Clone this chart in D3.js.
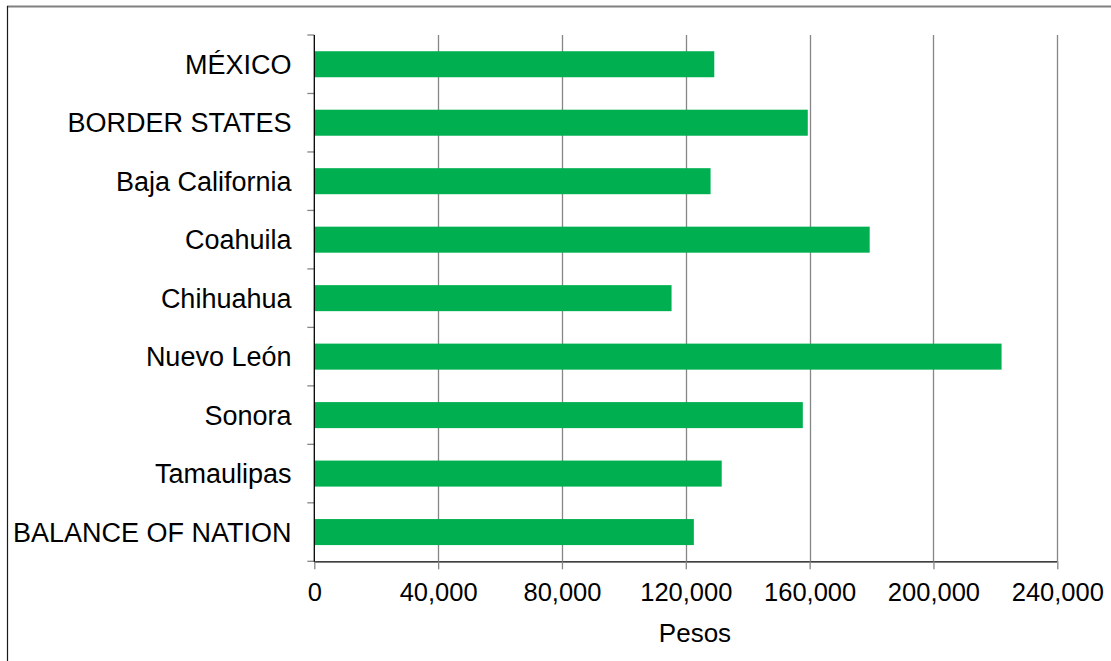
<!DOCTYPE html>
<html>
<head>
<meta charset="utf-8">
<script src="https://cdn.jsdelivr.net/npm/d3@7/dist/d3.min.js"></script>
<style>
  html, body { margin: 0; padding: 0; background: #fff; }
  svg { display: block; }
  text { font-family: "Liberation Sans", Arial, sans-serif; fill: #000; }
</style>
</head>
<body>
<svg id="chart" width="1111" height="661"></svg>
<script>
const categories = ["MÉXICO", "BORDER STATES", "Baja California", "Coahuila", "Chihuahua", "Nuevo León", "Sonora", "Tamaulipas", "BALANCE OF NATION"];
const values = [129200, 159400, 128000, 179400, 115400, 222000, 157800, 131600, 122600];
const xTicks = [0, 40000, 80000, 120000, 160000, 200000, 240000];
const xTitle = "Pesos";

const svg = d3.select("#chart");
const pLeft = 314.3, pRight = 1057.3, pTop = 35, pBottom = 561.3;

// outer frame
svg.append("line").attr("x1", 7).attr("x2", 1111).attr("y1", 6.5).attr("y2", 6.5)
  .attr("stroke", "#808080").attr("stroke-width", 2);
svg.append("line").attr("x1", 7.5).attr("x2", 7.5).attr("y1", 6).attr("y2", 661)
  .attr("stroke", "#1a1a1a").attr("stroke-width", 1.2);

const x = d3.scaleLinear().domain([0, 240000]).range([pLeft, pRight]);
const y = d3.scaleBand().domain(categories).range([pTop, pBottom]).paddingInner(0.555).paddingOuter(0.2775);
const yb = d3.scaleBand().domain(categories).range([pTop, pBottom]);

// gridlines
svg.append("g").selectAll("line").data(xTicks.filter(d => d > 0)).join("line")
  .attr("x1", d => Math.round(x(d)) + 0.5).attr("x2", d => Math.round(x(d)) + 0.5)
  .attr("y1", pTop).attr("y2", pBottom)
  .attr("stroke", "#868686").attr("stroke-width", 1.3);

// bars
svg.append("g").selectAll("rect").data(categories).join("rect")
  .attr("x", x(0)).attr("y", d => y(d))
  .attr("width", (d, i) => x(values[i]) - x(0))
  .attr("height", y.bandwidth())
  .attr("fill", "#00b050");

// x axis
const xAxis = d3.axisBottom(x).tickValues(xTicks).tickSize(8).tickPadding(8)
  .tickFormat(d3.format(","));
const gx = svg.append("g").attr("transform", `translate(0,${pBottom})`).call(xAxis);
gx.select(".domain").attr("stroke", "#000").attr("stroke-width", 1.3).attr("d", `M${pLeft},0.5H${pRight}`);
gx.selectAll(".tick line").attr("stroke", "#868686").attr("stroke-width", 1.3);
gx.selectAll(".tick text").attr("font-size", "25.5px").attr("font-family", "Liberation Sans, Arial, sans-serif").attr("dy", "0.93em");

// y axis ticks at band boundaries
const bounds = categories.map(c => yb(c)).concat([pBottom]);
svg.append("g").selectAll("line").data(bounds).join("line")
  .attr("x1", pLeft - 7).attr("x2", pLeft).attr("y1", d => d).attr("y2", d => d)
  .attr("stroke", "#868686").attr("stroke-width", 1.3);
svg.append("line").attr("x1", pLeft).attr("x2", pLeft).attr("y1", pTop).attr("y2", pBottom + 0.5)
  .attr("stroke", "#000").attr("stroke-width", 1.3);

// y labels
svg.append("g").selectAll("text").data(categories).join("text")
  .attr("x", 291.5).attr("y", d => yb(d) + yb.bandwidth() / 2)
  .attr("dy", "0.36em").attr("text-anchor", "end")
  .attr("font-size", "27px").text(d => d);

// x title
svg.append("text").attr("x", 695).attr("y", 641.5).attr("text-anchor", "middle")
  .attr("font-size", "26px").text(xTitle);
</script>
</body>
</html>
